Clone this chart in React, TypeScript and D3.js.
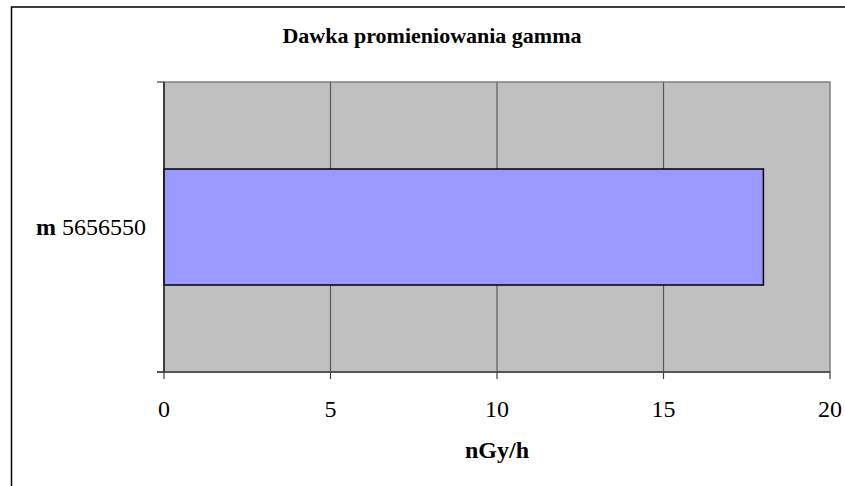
import { useEffect, useRef } from "react";
import * as d3 from "d3";

// Chart data
const categoryPrefixes = ["m"];
const categoryCodes = ["5656550"];
const doseValues = [18];
const xTicks = [0, 5, 10, 15, 20];

const WIDTH = 845;
const HEIGHT = 486;
const PLOT = { left: 164, right: 830, top: 82, bottom: 372 };
const SERIF = "Liberation Serif, Times New Roman, Times, Tinos, DejaVu Serif";

export default function App() {
  const svgRef = useRef<SVGSVGElement>(null);

  useEffect(() => {
    if (!svgRef.current) return;
    const svg = d3.select(svgRef.current);
    svg.selectAll("*").remove();

    const x = d3.scaleLinear().domain([0, 20]).range([PLOT.left, PLOT.right]);
    const y = d3
      .scaleBand<number>()
      .domain(d3.range(doseValues.length))
      .range([PLOT.top, PLOT.bottom])
      .paddingInner(0.6)
      .paddingOuter(0.3);

    // Outer frame (right/bottom edges fall outside the picture)
    svg
      .append("rect")
      .attr("x", 11.5)
      .attr("y", 7)
      .attr("width", 900)
      .attr("height", 600)
      .attr("fill", "white")
      .attr("stroke", "black")
      .attr("stroke-width", 1.5);

    // Title
    svg
      .append("text")
      .attr("x", 432)
      .attr("y", 43)
      .attr("text-anchor", "middle")
      .style("font-family", SERIF)
      .attr("font-weight", "bold")
      .attr("font-size", 22)
      .text("Dawka promieniowania gamma");

    // Plot area
    svg
      .append("rect")
      .attr("x", PLOT.left)
      .attr("y", PLOT.top)
      .attr("width", PLOT.right - PLOT.left)
      .attr("height", PLOT.bottom - PLOT.top)
      .attr("fill", "#c0c0c0")
      .attr("stroke", "#808080")
      .attr("stroke-width", 1.5);

    // Vertical grid lines
    svg
      .append("g")
      .selectAll("line")
      .data(xTicks.slice(1, -1))
      .join("line")
      .attr("x1", (d) => x(d))
      .attr("x2", (d) => x(d))
      .attr("y1", PLOT.top)
      .attr("y2", PLOT.bottom)
      .attr("stroke", "#5a5a5a")
      .attr("stroke-width", 1.2);

    // Bars
    svg
      .append("g")
      .selectAll("rect")
      .data(doseValues)
      .join("rect")
      .attr("x", x(0))
      .attr("y", (_, i) => y(i)!)
      .attr("width", (d) => x(d) - x(0))
      .attr("height", y.bandwidth())
      .attr("fill", "#9999ff")
      .attr("stroke", "black")
      .attr("stroke-width", 1.5);

    // Left axis line and category boundary ticks
    svg
      .append("line")
      .attr("x1", PLOT.left)
      .attr("x2", PLOT.left)
      .attr("y1", PLOT.top)
      .attr("y2", PLOT.bottom)
      .attr("stroke", "#202020")
      .attr("stroke-width", 1.5);

    svg
      .append("g")
      .selectAll("line")
      .data([PLOT.top, PLOT.bottom])
      .join("line")
      .attr("x1", PLOT.left - 7)
      .attr("x2", PLOT.left)
      .attr("y1", (d) => d)
      .attr("y2", (d) => d)
      .attr("stroke", "#404040")
      .attr("stroke-width", 1.2);

    // Category labels
    const cat = svg
      .append("g")
      .selectAll("text")
      .data(categoryCodes)
      .join("text")
      .attr("x", 146)
      .attr("y", (_, i) => y(i)! + y.bandwidth() / 2 + 8)
      .attr("text-anchor", "end")
      .style("font-family", SERIF)
      .attr("font-size", 24);
    cat
      .append("tspan")
      .attr("font-weight", "bold")
      .text((_, i) => categoryPrefixes[i] + " ");
    cat.append("tspan").text((d) => d);

    // Bottom axis
    svg
      .append("line")
      .attr("x1", PLOT.left - 7)
      .attr("x2", PLOT.right)
      .attr("y1", PLOT.bottom)
      .attr("y2", PLOT.bottom)
      .attr("stroke", "#404040")
      .attr("stroke-width", 1.5);

    svg
      .append("g")
      .selectAll("line")
      .data(xTicks)
      .join("line")
      .attr("x1", (d) => x(d))
      .attr("x2", (d) => x(d))
      .attr("y1", PLOT.bottom)
      .attr("y2", PLOT.bottom + 7)
      .attr("stroke", "#404040")
      .attr("stroke-width", 1.2);

    svg
      .append("g")
      .selectAll("text")
      .data(xTicks)
      .join("text")
      .attr("x", (d) => x(d))
      .attr("y", 417)
      .attr("text-anchor", "middle")
      .style("font-family", SERIF)
      .attr("font-size", 24)
      .text((d) => d);

    // X axis title
    svg
      .append("text")
      .attr("x", (PLOT.left + PLOT.right) / 2)
      .attr("y", 458)
      .attr("text-anchor", "middle")
      .style("font-family", SERIF)
      .attr("font-weight", "bold")
      .attr("font-size", 24)
      .text("nGy/h");
  }, []);

  return (
    <svg
      ref={svgRef}
      width={WIDTH}
      height={HEIGHT}
      style={{ position: "absolute", left: 0, top: 0, background: "white" }}
    />
  );
}
